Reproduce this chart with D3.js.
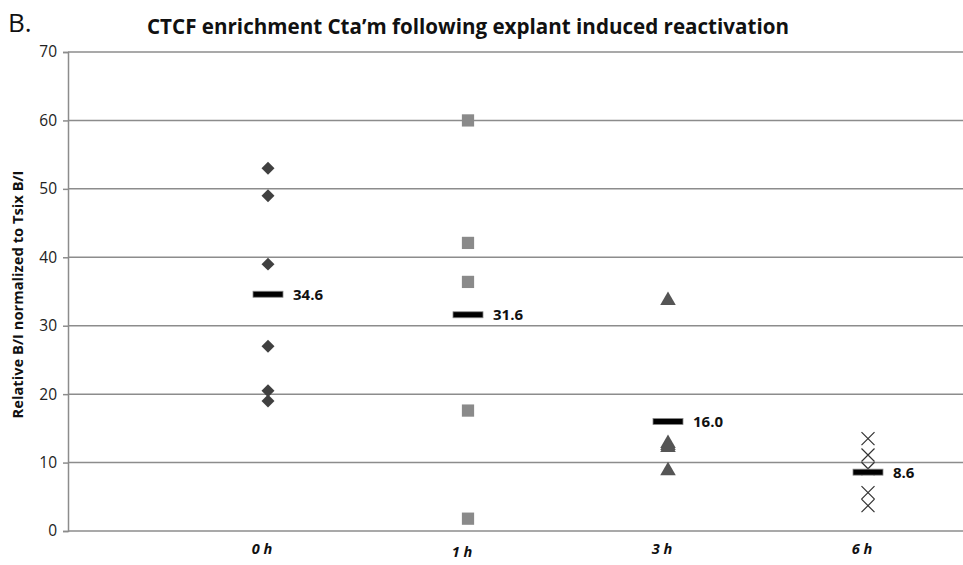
<!DOCTYPE html>
<html>
<head>
<meta charset="utf-8">
<script src="https://cdn.jsdelivr.net/npm/d3@7/dist/d3.min.js"></script>
<style>
  html, body { margin: 0; padding: 0; background: #fff; }
  svg { display: block; font-family: "Liberation Sans", Arial, sans-serif; }
</style>
</head>
<body>
<svg id="chart" width="963" height="565"></svg>
<script>
// Time points after explant
const categories = ["0 h", "1 h", "3 h", "6 h"];
// Individual replicate values per time point
const values0h = [53.0, 49.0, 39.0, 27.0, 20.5, 19.0];
const values1h = [60.0, 42.1, 36.4, 17.6, 1.8];
const values3h = [33.7, 12.8, 12.5, 12.2, 8.8];
const values6h = [13.5, 11.1, 9.1, 5.6, 3.7];
// Mean of each group (drawn as bar + label)
const means = [34.6, 31.6, 16.0, 8.6];
const yTicks = [0, 10, 20, 30, 40, 50, 60, 70];

const groups = [values0h, values1h, values3h, values6h];
const shapes = ["diamond", "square", "triangle", "cross"];
const colors = ["#404040", "#8a8a8a", "#555555", "#333333"];

const svg = d3.select("#chart");
const plotLeft = 68, plotRight = 968, plotTop = 52, plotBottom = 531;
const fontStack = "'Open Sans', 'Liberation Sans', sans-serif";

const x = d3.scaleLinear().domain([0, 4.5]).range([plotLeft, plotRight]);
const y = d3.scaleLinear().domain([0, 70]).range([plotBottom, plotTop]);

// Gridlines
svg.append("g").selectAll("line").data(yTicks).join("line")
  .attr("x1", plotLeft).attr("x2", 963)
  .attr("y1", d => y(d)).attr("y2", d => y(d))
  .attr("stroke", "#8c8c8c").attr("stroke-width", 1.5);

// Y axis
const yAxis = d3.axisLeft(y).tickValues(yTicks).tickSize(5).tickPadding(6);
const gy = svg.append("g").attr("transform", `translate(${plotLeft},0)`).call(yAxis);
gy.select(".domain").attr("stroke", "#8c8c8c").attr("stroke-width", 1.5);
gy.selectAll(".tick line").attr("stroke", "#8c8c8c").attr("stroke-width", 1.5);
gy.selectAll(".tick text").attr("font-size", 15.5).attr("fill", "#222")
  .attr("font-family", fontStack);

// X category labels
svg.append("g").selectAll("text").data(categories).join("text")
  .attr("x", (d, i) => x(i + 1) - 6)
  .attr("y", (d, i) => i === 1 ? 557 : 554)
  .attr("text-anchor", "middle")
  .attr("font-size", 14.5).attr("font-weight", "bold").attr("font-style", "italic")
  .attr("fill", "#111")
  .attr("font-family", fontStack)
  .text(d => d);

// Point markers
const symbolFor = {
  diamond: d3.symbol().type(d3.symbolSquare).size(84),
  square: d3.symbol().type(d3.symbolSquare).size(150),
  triangle: d3.symbol().type(d3.symbolTriangle).size(105)
};
groups.forEach((vals, gi) => {
  const g = svg.append("g");
  const cx = x(gi + 1);
  if (shapes[gi] === "cross") {
    const s = 6.5;
    vals.forEach(v => {
      const cy = y(v);
      g.append("path")
        .attr("d", `M${cx - s},${cy - s}L${cx + s},${cy + s}M${cx - s},${cy + s}L${cx + s},${cy - s}`)
        .attr("stroke", colors[gi]).attr("stroke-width", 1.2).attr("fill", "none");
    });
  } else {
    g.selectAll("path").data(vals).join("path")
      .attr("transform", d => `translate(${cx},${y(d)})` + (shapes[gi] === "diamond" ? " rotate(45)" : ""))
      .attr("d", symbolFor[shapes[gi]])
      .attr("fill", colors[gi]);
  }
});

// Mean bars and labels
const mg = svg.append("g");
mg.selectAll("rect").data(means).join("rect")
  .attr("x", (d, i) => x(i + 1) - 15)
  .attr("y", d => y(d) - 3)
  .attr("width", 30).attr("height", 6)
  .attr("fill", "#000").attr("stroke", "#888").attr("stroke-width", 0.8);
mg.selectAll("text").data(means).join("text")
  .attr("x", (d, i) => x(i + 1) + 25)
  .attr("y", d => y(d) + 5.5)
  .attr("font-size", 15).attr("font-weight", "bold").attr("fill", "#111")
  .attr("font-family", fontStack)
  .text(d => d.toFixed(1));

// Y axis title
svg.append("text")
  .attr("transform", `translate(23,${(plotTop + plotBottom) / 2 + 3}) rotate(-90)`)
  .attr("text-anchor", "middle")
  .attr("font-size", 13.5).attr("font-weight", "bold").attr("fill", "#111")
  .attr("textLength", 248).attr("lengthAdjust", "spacingAndGlyphs")
  .attr("font-family", fontStack)
  .text("Relative B/I normalized to Tsix B/I");

// Panel letter and chart title
svg.append("text").attr("x", 8).attr("y", 32)
  .attr("font-size", 26).attr("fill", "#111")
  .attr("font-family", fontStack)
  .text("B.");
svg.append("text").attr("x", 147).attr("y", 34)
  .attr("font-size", 21).attr("font-weight", "bold").attr("fill", "#111")
  .attr("textLength", 642).attr("lengthAdjust", "spacingAndGlyphs")
  .attr("font-family", fontStack)
  .text("CTCF enrichment Cta’m following explant induced reactivation");
</script>
</body>
</html>
